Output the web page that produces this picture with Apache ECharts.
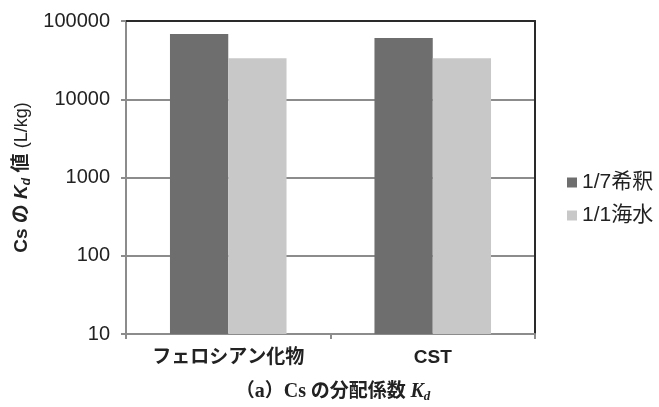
<!DOCTYPE html>
<html>
<head>
<meta charset="utf-8">
<script src="https://cdn.jsdelivr.net/npm/echarts@6/dist/echarts.min.js"></script>
<style>
  html, body { margin: 0; padding: 0; background: #fff; }
  #chart { width: 659px; height: 407px; }
</style>
</head>
<body>
<div id="chart"></div>
<script>
// カテゴリと系列（値はグラフから読み取り）
const categories = ["フェロシアン化物", "CST"];
const dilute17 = [68000, 60500];
const seawater11 = [33500, 33500];
const seriesNames = ["1/7希釈", "1/1海水"];

const DARK_BAR = "#6e6e6e";
const LIGHT_BAR = "#c8c8c8";
const GRID_GRAY = "#8c8c8c";
const FRAME = "#2a2a2a";
const SANS = "'Liberation Sans', 'Noto Sans CJK JP', sans-serif";
const SERIF = "'Liberation Serif', 'DejaVu Serif', 'Noto Sans CJK JP', serif";

const chart = echarts.init(document.getElementById("chart"), null, { renderer: "canvas" });

chart.setOption({
  animation: false,
  title: {
    text: "{j|（}{p|a}{j|）}{t|Cs}{j| の分配係数 }{k|K}{s|d}",
    left: 328,
    textAlign: "center",
    top: 376,
    textStyle: {
      rich: {
        p: { fontFamily: SERIF, fontWeight: "bold", fontSize: 20, color: "#222" },
        t: { fontFamily: SERIF, fontWeight: "bold", fontSize: 20, color: "#222" },
        j: { fontFamily: SERIF, fontSize: 19, color: "#222" },
        k: { fontFamily: SERIF, fontWeight: "bold", fontStyle: "italic", fontSize: 20, color: "#222" },
        s: { fontFamily: SERIF, fontWeight: "bold", fontStyle: "italic", fontSize: 13, color: "#222", padding: [9, 0, 0, 0] },
      },
    },
  },
  legend: {
    orient: "vertical",
    left: 562,
    top: 167,
    itemWidth: 10,
    itemHeight: 10,
    itemGap: 12,
    icon: "rect",
    data: seriesNames,
    textStyle: { fontFamily: SANS, fontSize: 21, color: "#222" },
  },
  grid: { left: 126, right: 124, top: 21, bottom: 73 },
  xAxis: [
    {
      type: "category",
      data: categories,
      axisLine: { lineStyle: { color: GRID_GRAY, width: 2 } },
      axisTick: { show: true, length: 5, lineStyle: { color: GRID_GRAY, width: 2 } },
      axisLabel: { margin: 14, fontFamily: SANS, fontWeight: "bold", fontSize: 19, color: "#222" },
    },
    {
      type: "category",
      position: "top",
      data: categories,
      axisLine: { show: true, lineStyle: { color: FRAME, width: 2 } },
      axisTick: { show: false },
      axisLabel: { show: false },
    },
  ],
  yAxis: [
    {
      type: "log",
      logBase: 10,
      min: 10,
      max: 100000,
      name: "{a|Cs の }{k|K}{s|d}{a| 値 }{b|(L/kg)}",
      nameLocation: "middle",
      nameGap: 92,
      nameRotate: 90,
      nameTextStyle: {
        rich: {
          a: { fontFamily: SANS, fontWeight: "bold", fontSize: 19, color: "#222" },
          k: { fontFamily: SANS, fontWeight: "bold", fontStyle: "italic", fontSize: 19, color: "#222" },
          s: { fontFamily: SANS, fontWeight: "bold", fontStyle: "italic", fontSize: 12, color: "#222", padding: [9, 0, 0, 0] },
          b: { fontFamily: SANS, fontSize: 18, color: "#222" },
        },
      },
      axisLine: { show: true, lineStyle: { color: GRID_GRAY, width: 2 } },
      axisTick: { show: true, length: 5, lineStyle: { color: GRID_GRAY, width: 2 } },
      axisLabel: {
        margin: 16,
        fontFamily: SANS,
        fontSize: 20,
        color: "#222",
        formatter: (v) => String(Math.round(v)),
      },
      splitLine: { show: true, lineStyle: { color: GRID_GRAY, width: 2 } },
    },
    {
      type: "log",
      logBase: 10,
      min: 10,
      max: 100000,
      position: "right",
      axisLine: { show: true, lineStyle: { color: FRAME, width: 2 } },
      axisTick: { show: false },
      axisLabel: { show: false },
      splitLine: { show: false },
    },
  ],
  series: [
    {
      name: seriesNames[0],
      type: "bar",
      data: dilute17,
      barGap: "0%",
      barCategoryGap: "43%",
      itemStyle: { color: DARK_BAR },
    },
    {
      name: seriesNames[1],
      type: "bar",
      data: seawater11,
      barGap: "0%",
      barCategoryGap: "43%",
      itemStyle: { color: LIGHT_BAR },
    },
  ],
});
</script>
</body>
</html>
